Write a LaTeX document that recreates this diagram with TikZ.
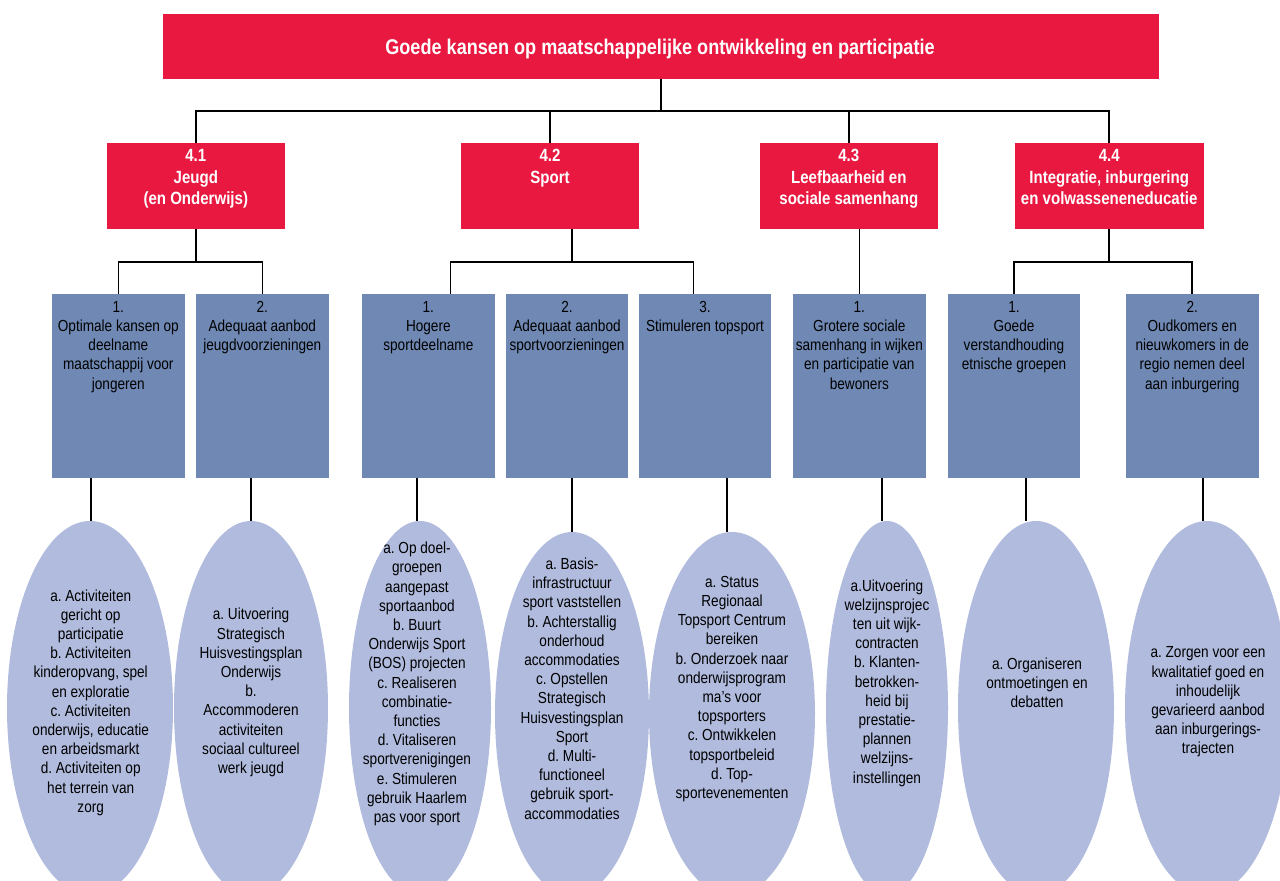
\documentclass[tikz,border=0pt]{standalone}
\usepackage{fontspec}
\newfontfamily\labfont[FakeStretch=0.85]{Liberation Sans}
\usetikzlibrary{shapes.geometric}
\definecolor{crimson}{RGB}{232,24,64}
\definecolor{steel}{RGB}{111,137,180}
\definecolor{lav}{RGB}{176,187,221}
\newcommand\rs{\rule{0pt}{15pt}}
\newcommand\bs{\rule{0pt}{14pt}}
\frenchspacing
\tikzset{
 redbox/.style={rectangle, fill=crimson, draw=none, inner sep=0pt},
 bluebox/.style={rectangle, fill=steel, draw=none, inner sep=0pt, minimum height=184pt},
 oval/.style={ellipse, fill=lav, draw=none, inner sep=0pt},
 conn/.style={draw=black, line width=1.6pt},
 titletxt/.style={anchor=base, inner sep=0pt, text=white, font=\labfont\bfseries\fontsize{21.3}{25}\selectfont},
 redtxt/.style={anchor=north, inner sep=0pt, align=center, text=white, font=\labfont\bfseries\fontsize{17.7}{21.5}\selectfont},
 bluetxt/.style={anchor=north, inner sep=0pt, align=center, text=black, font=\labfont\fontsize{16}{19.3}\selectfont},
 ovaltxt/.style={inner sep=0pt, align=center, text=black, font=\labfont\fontsize{16}{19.2}\selectfont},
}
\begin{document}
\frenchspacing
\begin{tikzpicture}[x=1pt,y=-1pt]
\useasboundingbox (0,0) rectangle (1280,881);
\clip (0,0) rectangle (1280,881);

% level 1
\node[redbox, minimum width=996pt, minimum height=65pt] (top) at (661,46.5) {};
\node[titletxt] (toptxt) at (660,54.5) {Goede kansen op maatschappelijke ontwikkeling en participatie};

% level 2
\node[redbox, minimum width=177.5pt, minimum height=86pt] (r41) at (195.8,186) {};
\node[redbox, minimum width=178pt, minimum height=86pt] (r42) at (550,186) {};
\node[redbox, minimum width=177.6pt, minimum height=86pt] (r43) at (848.8,186) {};
\node[redbox, minimum width=189pt, minimum height=86pt] (r44) at (1109.2,186) {};
\node[redtxt] (r41t) at ([yshift=-3.5pt]r41.north) {\rs 4.1\\Jeugd\\(en Onderwijs)};
\node[redtxt] (r42t) at ([yshift=-3.5pt]r42.north) {\rs 4.2\\Sport};
\node[redtxt] (r43t) at ([yshift=-3.5pt]r43.north) {\rs 4.3\\Leefbaarheid en\\sociale samenhang};
\node[redtxt] (r44t) at ([yshift=-3.5pt]r44.north) {\rs 4.4\\Integratie, inburgering\\en volwasseneneducatie};

% level 3
\node[bluebox, minimum width=132.7pt] (b11) at (118.35,386) {};
\node[bluebox, minimum width=132.6pt] (b12) at (262.3,386) {};
\node[bluebox, minimum width=132.7pt] (b21) at (428.35,386) {};
\node[bluebox, minimum width=122pt] (b22) at (567,386) {};
\node[bluebox, minimum width=132pt] (b23) at (705,386) {};
\node[bluebox, minimum width=132.7pt] (b31) at (859.35,386) {};
\node[bluebox, minimum width=132pt] (b41) at (1014,386) {};
\node[bluebox, minimum width=133pt] (b42) at (1192.25,386) {};
\node[bluetxt] (b11t) at ([yshift=-4pt]b11.north) {\bs 1.\\Optimale kansen op\\deelname\\maatschappij voor\\jongeren};
\node[bluetxt] (b12t) at ([yshift=-4pt]b12.north) {\bs 2.\\Adequaat aanbod\\jeugdvoorzieningen};
\node[bluetxt] (b21t) at ([yshift=-4pt]b21.north) {\bs 1.\\Hogere\\sportdeelname};
\node[bluetxt] (b22t) at ([yshift=-4pt]b22.north) {\bs 2.\\Adequaat aanbod\\sportvoorzieningen};
\node[bluetxt] (b23t) at ([yshift=-4pt]b23.north) {\bs 3.\\Stimuleren topsport};
\node[bluetxt] (b31t) at ([yshift=-4pt]b31.north) {\bs 1.\\Grotere sociale\\samenhang in wijken\\en participatie van\\bewoners};
\node[bluetxt] (b41t) at ([yshift=-4pt]b41.north) {\bs 1.\\Goede\\verstandhouding\\etnische groepen};
\node[bluetxt] (b42t) at ([yshift=-4pt]b42.north) {\bs 2.\\Oudkomers en\\nieuwkomers in de\\regio nemen deel\\aan inburgering};

% level 4 ellipses (shapes)
\node[oval, minimum width=166pt, minimum height=374pt] (e11) at (90,708) {};
\node[oval, minimum width=154pt, minimum height=374pt] (e12) at (251,708) {};
\node[oval, minimum width=142pt, minimum height=374pt] (e21) at (420,708) {};
\node[oval, minimum width=154pt, minimum height=364pt] (e22) at (572,714) {};
\node[oval, minimum width=166pt, minimum height=364pt] (e23) at (732,714) {};
\node[oval, minimum width=122pt, minimum height=374pt] (e31) at (887,708) {};
\node[oval, minimum width=156pt, minimum height=374pt] (e41) at (1036,708) {};
\node[oval, minimum width=164pt, minimum height=374pt] (e42) at (1207,708) {};

% connectors level 1 -> 2
\coordinate (j0) at (660.5,110.7);
\draw[conn] (top.south) -- (top.south |- j0);
\draw[conn] (r41.north) -- (r41.north |- j0) -- (r44.north |- j0) -- (r44.north);
\draw[conn] (r42.north |- j0) -- (r42.north);
\draw[conn] (r43.north |- j0) -- (r43.north);

% connectors level 2 -> 3
\coordinate (h1) at (0,262);
\draw[conn] (r41.south) -- (r41.south |- h1);
\draw[conn] (b11.north) -- (b11.north |- h1) -- (b12.north |- h1) -- (b12.north);
\coordinate (q42) at ([xshift=22pt]r42.south);
\coordinate (p21) at ([xshift=22pt]b21.north);
\coordinate (p23) at ([xshift=-11.5pt]b23.north);
\draw[conn] (q42) -- (q42 |- h1);
\draw[conn] (p21) -- (p21 |- h1) -- (p23 |- h1) -- (p23);
\coordinate (q43) at (b31.north |- r43.south);
\draw[conn] (q43) -- (b31.north);
\draw[conn] (r44.south) -- (r44.south |- h1);
\draw[conn] (b41.north) -- (b41.north |- h1) -- (b42.north |- h1) -- (b42.north);

% connectors level 3 -> 4
\coordinate (t11) at ([xshift=1pt]e11.north);
\coordinate (t12) at (e12.north);
\coordinate (t21) at ([xshift=-3pt]e21.north);
\coordinate (t22) at (e22.north);
\coordinate (t23) at ([xshift=-5pt]e23.north);
\coordinate (t31) at ([xshift=-5pt]e31.north);
\coordinate (t41) at ([xshift=-10pt]e41.north);
\coordinate (t42) at ([xshift=-4pt]e42.north);
\draw[conn] (t11 |- b11.south) -- (t11);
\draw[conn] (t12 |- b12.south) -- (t12);
\draw[conn] (t21 |- b21.south) -- (t21);
\draw[conn] (t22 |- b22.south) -- (t22);
\draw[conn] (t23 |- b23.south) -- (t23);
\draw[conn] (t31 |- b31.south) -- (t31);
\draw[conn] (t41 |- b41.south) -- (t41);
\draw[conn] (t42 |- b42.south) -- (t42);

% ellipse texts
\node[ovaltxt] (e11t) at (90.7,702.5) {a. Activiteiten\\gericht op\\participatie\\b. Activiteiten\\kinderopvang, spel\\en exploratie\\c. Activiteiten\\onderwijs, educatie\\en arbeidsmarkt\\d. Activiteiten op\\het terrein van\\zorg};
\node[ovaltxt] (e12t) at (251,692.5) {a. Uitvoering\\Strategisch\\Huisvestingsplan\\Onderwijs\\b.\\Accommoderen\\activiteiten\\sociaal cultureel\\werk jeugd};
\node[ovaltxt] (e21t) at (417,684) {a. Op doel-\\groepen\\aangepast\\sportaanbod\\b. Buurt\\Onderwijs Sport\\(BOS) projecten\\c. Realiseren\\combinatie-\\functies\\d. Vitaliseren\\sportverenigingen\\e. Stimuleren\\gebruik Haarlem\\pas voor sport};
\node[ovaltxt] (e22t) at (572,688.5) {a. Basis-\\infrastructuur\\sport vaststellen\\b. Achterstallig\\onderhoud\\accommodaties\\c. Opstellen\\Strategisch\\Huisvestingsplan\\Sport\\d. Multi-\\functioneel\\gebruik sport-\\accommodaties};
\node[ovaltxt] (e23t) at (732,689) {a. Status\\Regionaal\\Topsport Centrum\\bereiken\\b. Onderzoek naar\\onderwijsprogram\\ma’s voor\\topsporters\\c. Ontwikkelen\\topsportbeleid\\d. Top-\\sportevenementen};
\node[ovaltxt] (e31t) at (887,683) {a.Uitvoering\\welzijnsprojec\\ten uit wijk-\\contracten\\b. Klanten-\\betrokken-\\heid bij\\prestatie-\\plannen\\welzijns-\\instellingen};
\node[ovaltxt] (e41t) at (1037,683) {a. Organiseren\\ontmoetingen en\\debatten};
\node[ovaltxt] (e42t) at (1208,702) {a. Zorgen voor een\\kwalitatief goed en\\inhoudelijk\\gevarieerd aanbod\\aan inburgerings-\\trajecten};
\end{tikzpicture}
\end{document}
